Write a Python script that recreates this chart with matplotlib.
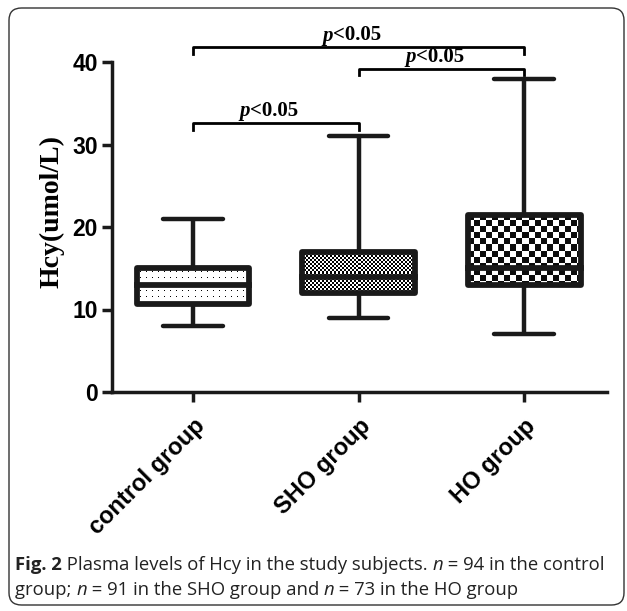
import numpy as np
import matplotlib.pyplot as plt
from matplotlib.patches import Rectangle, FancyBboxPatch

groups = ["control group", "SHO group", "HO group"]
whisker_low = [8, 9, 7]
q1 = [10.7, 12, 13]
median = [13, 14, 15]
q3 = [15, 17, 21.5]
whisker_high = [21, 31, 38]
patterns = ["dots", "fine", "coarse"]

# significance brackets: (group i, group j, height)
pairs = [(0, 2, 41.8), (1, 2, 39.2), (0, 1, 32.6)]
p_text = "<0.05"

caption1 = [("Fig. 2", "bold", "normal"),
            (" Plasma levels of Hcy in the study subjects. ", "normal", "normal"),
            ("n", "normal", "italic"),
            (" = 94 in the control", "normal", "normal")]
caption2 = [("group; ", "normal", "normal"), ("n", "normal", "italic"),
            (" = 91 in the SHO group and ", "normal", "normal"),
            ("n", "normal", "italic"), (" = 73 in the HO group", "normal", "normal")]

W, H = 627, 611
fig = plt.figure(figsize=(W / 100, H / 100), dpi=100)
ax = fig.add_axes([112 / W, 219 / H, 495 / W, 362 / H])
ax.set_xlim(0.51, 3.5)
ax.set_ylim(0, 362 / 8.25)

fig.add_artist(FancyBboxPatch((9 / W, 6 / H), 615 / W, 597 / H,
                              boxstyle="round,pad=0,rounding_size=0.02",
                              transform=fig.transFigure, fill=False,
                              ec="#333333", lw=1))


def texture(kind, nx, ny):
    img = np.ones((ny, nx))
    yy, xx = np.mgrid[0:ny, 0:nx]
    if kind == "dots":
        img[((yy % 6) == 3) & ((xx % 6) == 3)] = 0
    elif kind == "fine":
        img[((yy // 2 + xx // 2) % 2) == 0] = 0
    else:
        img[((yy // 6 + xx // 6) % 2) == 0] = 0.05
    return img


bw = 0.68
cap = 0.36
lw = 3.2
for i in range(3):
    x = i + 1
    ax.plot([x, x], [whisker_low[i], q1[i]], c="#1a1a1a", lw=lw, solid_capstyle="butt")
    ax.plot([x, x], [q3[i], whisker_high[i]], c="#1a1a1a", lw=lw, solid_capstyle="butt")
    for w in (whisker_low[i], whisker_high[i]):
        ax.plot([x - cap / 2, x + cap / 2], [w, w], c="#1a1a1a", lw=lw,
                solid_capstyle="round")
    box = Rectangle((x - bw / 2, q1[i]), bw, q3[i] - q1[i], fc="none",
                    ec="#1a1a1a", lw=lw * 1.3, zorder=3, joinstyle="round")
    ax.add_patch(box)
    npx = int(bw * 165.5)
    npy = int((q3[i] - q1[i]) * 8.25)
    im = ax.imshow(texture(patterns[i], npx, npy), cmap="gray", vmin=0, vmax=1,
                   extent=(x - bw / 2, x + bw / 2, q1[i], q3[i]),
                   aspect="auto", interpolation="nearest", zorder=2)
    im.set_clip_path(box)
    ax.plot([x - bw / 2, x + bw / 2], [median[i], median[i]], c="#1a1a1a",
            lw=lw * 1.3, zorder=4)

for a, b, h in pairs:
    xa, xb = a + 1, b + 1
    ax.plot([xa, xa, xb, xb], [h - 0.8, h, h, h - 0.8], c="black", lw=2,
            clip_on=False)
    t = ax.text((xa + xb) / 2 - 0.22, h + 0.2, "p", fontfamily="Liberation Serif",
                fontweight="bold", fontstyle="italic", fontsize=15, va="bottom",
                ha="left")
    ax.annotate(p_text, xy=(1, 0), xycoords=t, va="bottom", ha="left",
                fontfamily="Liberation Serif", fontweight="bold", fontsize=15)

ax.spines["top"].set_visible(False)
ax.spines["right"].set_visible(False)
ax.spines["left"].set_bounds(0, 40)
for s in ("left", "bottom"):
    ax.spines[s].set_linewidth(2.5)
    ax.spines[s].set_color("#1a1a1a")
ax.set_yticks([0, 10, 20, 30, 40])
ax.set_xticks([1, 2, 3])
ax.set_xticklabels(groups, rotation=45, ha="right", va="top",
                   rotation_mode="anchor", fontweight="bold", fontsize=17,
                   fontfamily="Liberation Sans")
ax.tick_params(axis="both", width=2.5, length=7, color="#1a1a1a")
ax.tick_params(axis="x", pad=9)
ax.tick_params(axis="y", labelsize=16.5, pad=3)
for lab in ax.get_yticklabels():
    lab.set_fontweight("bold")
    lab.set_fontfamily("Liberation Sans")
ax.set_ylabel("Hcy(umol/L)", fontfamily="Liberation Serif", fontweight="bold",
              fontsize=20, labelpad=6)

for line, y in ((caption1, 611 - 570), (caption2, 611 - 595)):
    prev = None
    for txt, wt, st in line:
        kw = dict(fontfamily="Open Sans", fontweight=wt, fontstyle=st,
                  fontsize=13.3, color="#222222")
        if prev is None:
            prev = fig.text(15 / W, y / H, txt, va="baseline", ha="left", **kw)
        else:
            prev = ax.annotate(txt, xy=(1, 0), xycoords=prev, va="bottom",
                               ha="left", annotation_clip=False, **kw)

fig.savefig("out.png", dpi=100)
